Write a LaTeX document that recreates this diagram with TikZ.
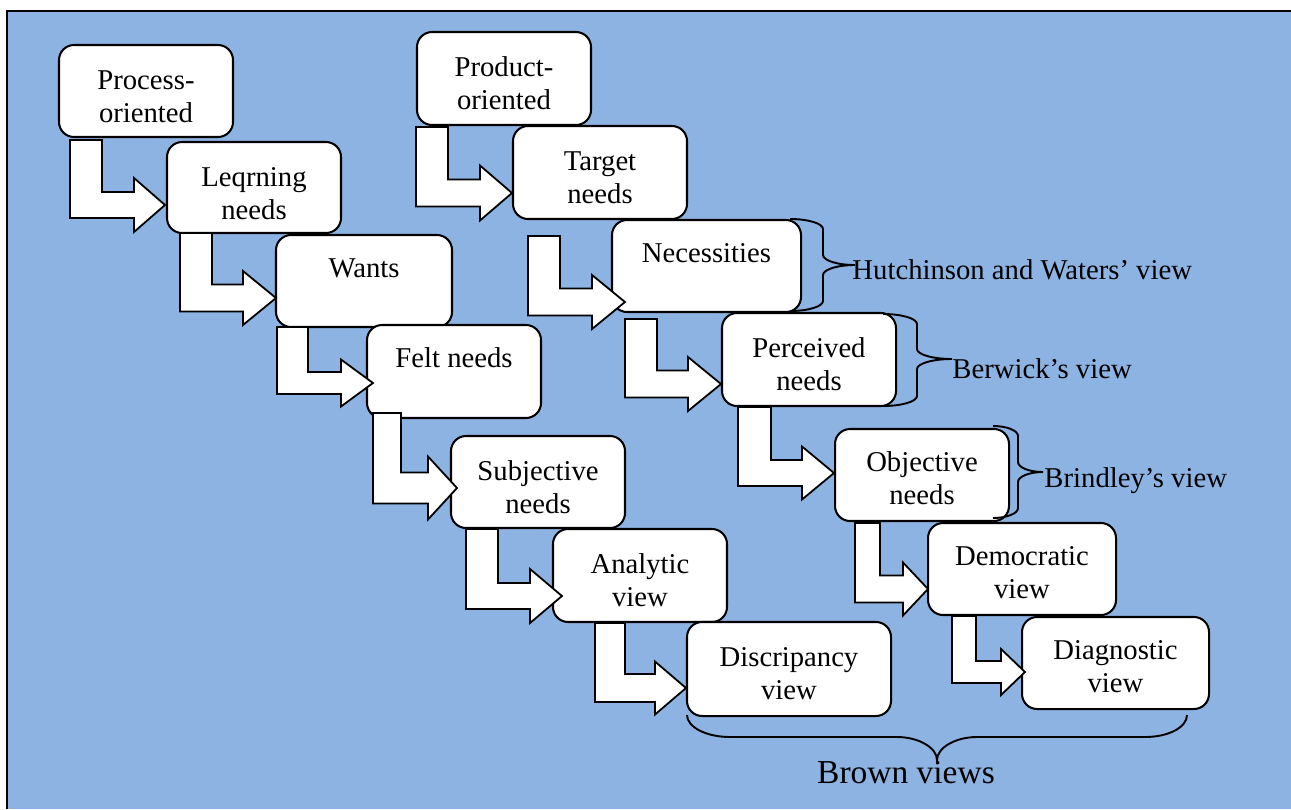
\documentclass[tikz,border=0pt]{standalone}
\usepackage{fontspec}
\setmainfont{Liberation Serif}
\usetikzlibrary{calc,fit}

\definecolor{panelblue}{RGB}{141,179,226}
% one drawing unit in points
\newcommand\pxu{0.41828pt}
\newcommand\topstrut{\rule{0pt}{9.66pt}}

\tikzset{
  box/.style={draw, fill=white, rounded corners=6.3pt, line width=0.85pt, inner sep=0pt},
  txt/.style={inner sep=0pt, align=center, anchor=north,
    font=\fontsize{12}{13.8}\selectfont},
  blockarrow/.style={draw, fill=white, line width=0.75pt, line join=miter},
  bracepath/.style={draw, line width=0.8pt},
  lbl/.style={inner sep=0pt, anchor=base west, font=\fontsize{12}{13.8}\selectfont}
}

% bent block arrow from below #1 into the left side of #2
% #3 stem left x, #4 stem right x, #5 stem top offset below #1,
% #6 tip offset from #2.west, #7 shaft half width, #8 head half height, #9 head length
\newcommand\bentarrow[9]{%
  \draw[blockarrow] let \p1=(#1.south), \p2=($(#2.west)+(#6)$) in
    ({#3*\pxu},{\y1-(#5)*\pxu}) -- ({#4*\pxu},{\y1-(#5)*\pxu})
    -- ({#4*\pxu},{\y2+(#7)*\pxu}) -- ({\x2-(#9)*\pxu},{\y2+(#7)*\pxu})
    -- ({\x2-(#9)*\pxu},{\y2+(#8)*\pxu}) -- (\x2,\y2)
    -- ({\x2-(#9)*\pxu},{\y2-(#8)*\pxu}) -- ({\x2-(#9)*\pxu},{\y2-(#7)*\pxu})
    -- ({#3*\pxu},{\y2-(#7)*\pxu}) -- cycle;}

% right curly brace: #1 end x, #2 spine x, #3 tip x, #4 top y, #5 tip y, #6 bottom y
\newcommand\rightbrace[6]{%
  \draw[bracepath] (#1,#4) .. controls +({0.55*(#2-#1)},0) and +(0,-5.5) .. (#2,#4+10)
    -- (#2,#5-10) .. controls +(0,5.5) and +({-0.55*(#3-#2)},0) .. (#3,#5)
    .. controls +({-0.55*(#3-#2)},0) and +(0,-5.5) .. (#2,#5+10)
    -- (#2,#6-10) .. controls +(0,5.5) and +({0.55*(#2-#1)},0) .. (#1,#6);}

\begin{document}
\begin{tikzpicture}[x=0.41828pt, y=-0.41828pt]
  \useasboundingbox (0,0) rectangle (1291,809);
  % panel
  \fill[white] (0,0) rectangle (1291,809);
  \fill[panelblue] (7,10.8) rectangle (1291,809);
  \draw[line width=0.85pt] (7,809) -- (7,10.8) -- (1291,10.8);

  % process-oriented chain
  \node[box, fit={(59,45) (233,137)}] (proc) {};
  \node[box, fit={(167,142) (341,233)}] (lrn) {};
  \node[box, fit={(276,235) (452,327)}] (wants) {};
  \node[box, fit={(367,325) (541,418)}] (felt) {};
  \node[box, fit={(451,436) (625,528)}] (subj) {};
  \node[box, fit={(553,529) (727,622)}] (anal) {};
  \node[box, fit={(687,622) (891,716)}] (disc) {};

  % product-oriented chain
  \node[box, fit={(417,32) (591,125)}] (prod) {};
  \node[box, fit={(513,126) (687,219)}] (targ) {};
  \node[box, fit={(612,220) (801,312)}] (nec) {};
  \node[box, fit={(722,313) (896,406)}] (perc) {};
  \node[box, fit={(835,429) (1009,521)}] (obj) {};
  \node[box, fit={(928,523) (1116,615)}] (demo) {};
  \node[box, fit={(1022,617) (1209,709)}] (diag) {};

  % box texts
  \node[txt] (proct) at ($(proc.north)+(0,21.5)$) {\topstrut Process-\\oriented};
  \node[txt] (lrnt) at ($(lrn.north)+(0,21.5)$) {\topstrut Leqrning\\needs};
  \node[txt] (wantst) at ($(wants.north)+(0,20)$) {\topstrut Wants};
  \node[txt] (feltt) at ($(felt.north)+(0,20)$) {\topstrut Felt needs};
  \node[txt] (subjt) at ($(subj.north)+(0,21.5)$) {\topstrut Subjective\\needs};
  \node[txt] (analt) at ($(anal.north)+(0,21.5)$) {\topstrut Analytic\\view};
  \node[txt] (disct) at ($(disc.north)+(0,21.5)$) {\topstrut Discripancy\\view};
  \node[txt] (prodt) at ($(prod.north)+(0,21.5)$) {\topstrut Product-\\oriented};
  \node[txt] (targt) at ($(targ.north)+(0,21.5)$) {\topstrut Target\\needs};
  \node[txt] (nect) at ($(nec.north)+(0,20)$) {\topstrut Necessities};
  \node[txt] (perct) at ($(perc.north)+(0,21.5)$) {\topstrut Perceived\\needs};
  \node[txt] (objt) at ($(obj.north)+(0,20)$) {\topstrut Objective\\needs};
  \node[txt] (demot) at ($(demo.north)+(0,20)$) {\topstrut Democratic\\view};
  \node[txt] (diagt) at ($(diag.north)+(0,20)$) {\topstrut Diagnostic\\view};

  % bent arrows, left chain
  \bentarrow{proc}{lrn}{70}{102}{2}{-1,17.5}{13}{27}{31}
  \bentarrow{lrn}{wants}{180}{212}{-1}{1,17}{13.5}{27}{33}
  \bentarrow{wants}{felt}{277}{308}{-1}{7,11.5}{11}{23.5}{32}
  \bentarrow{felt}{subj}{373}{401}{-6}{7,6}{15.5}{31.5}{29}
  \bentarrow{subj}{anal}{466}{498}{0}{10,20.5}{13}{27}{32}
  \bentarrow{anal}{disc}{595}{625}{0}{0,19}{14}{26.5}{31}

  % bent arrows, right chain
  \bentarrow{prod}{targ}{416}{448}{1}{0,20.5}{13.5}{27.5}{32}
  \bentarrow{targ}{nec}{528}{560}{16}{14,36}{13.5}{27}{33}
  \bentarrow{nec}{perc}{625}{657}{6}{0,24.5}{13.5}{27}{33}
  \bentarrow{perc}{obj}{738}{771}{0}{0,-2}{13}{26.5}{32}
  \bentarrow{obj}{demo}{855}{880}{1}{1,20}{13.5}{26.5}{25}
  \bentarrow{demo}{diag}{952}{976}{0}{4,9}{11}{23}{24}

  % braces and their labels
  \rightbrace{790}{823}{855}{219}{265}{311}
  \node[lbl] (hwview) at (852,279) {Hutchinson and Waters’ view};
  \rightbrace{883}{917}{952}{314}{359}{406}
  \node[lbl] (bwview) at (952,378) {Berwick’s view};
  \rightbrace{993}{1018}{1043}{426}{472}{518}
  \node[lbl] (brview) at (1044,487) {Brindley’s view};

  \draw[bracepath] (687,715) .. controls +(0,12) and +(-24,0) .. (730,737)
    -- (897,737) .. controls +(22,0) and +(0,-12) .. (937,760)
    .. controls +(0,-12) and +(-22,0) .. (977,737)
    -- (1145,737) .. controls +(24,0) and +(0,12) .. (1187,715);
  \node[inner sep=0pt, anchor=base, font=\fontsize{14}{16.1}\selectfont] (brown) at (906,783) {Brown views};
\end{tikzpicture}
\end{document}
